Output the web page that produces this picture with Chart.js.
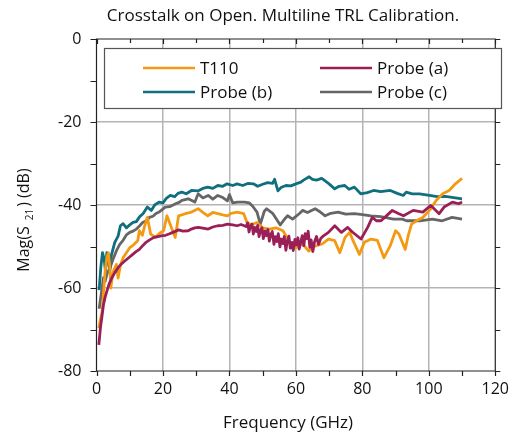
<!DOCTYPE html>
<html>
<head>
<meta charset="utf-8">
<script src="https://cdn.jsdelivr.net/npm/chart.js@4.4.1/dist/chart.umd.min.js"></script>
<style>
  html, body { margin: 0; padding: 0; background: #fff; }
  #wrap { width: 518px; height: 436px; }
</style>
</head>
<body>
<div id="wrap"><canvas id="crosstalkChart" width="518" height="436"></canvas></div>
<script>
// ——— Data (frequency in GHz, magnitude in dB) ———
var t110Freq = [0.7, 1.2, 1.7, 2.2, 2.6, 3.1, 3.6, 4.0, 4.3, 4.8, 5.1, 6.0, 6.5, 7.2, 8.0, 9.0, 10.0, 11.0, 12.4, 12.9, 13.8, 14.5, 15.3, 16.3, 17.7, 19.0, 20.2, 21.2, 22.7, 23.7, 24.7, 26.7, 28.6, 30.6, 31.9, 33.5, 35.0, 36.5, 38.0, 39.4, 40.5, 42.3, 44.3, 45.3, 46.5, 48.2, 50.0, 52.0, 54.0, 56.1, 57.5, 59.0, 60.0, 62.0, 63.9, 65.5, 67.9, 69.8, 71.7, 73.2, 74.8, 76.2, 77.2, 79.1, 80.6, 82.6, 84.5, 86.5, 88.4, 90.0, 91.0, 92.9, 93.8, 94.8, 96.3, 98.2, 100.2, 102.2, 104.2, 106.1, 108.0, 110.0];
var t110Mag = [-69.7, -67.5, -65.7, -60, -55.9, -52.7, -51.5, -55, -60, -57, -55.9, -54.3, -57.6, -54.5, -52.7, -51.5, -50.3, -49.7, -48.6, -46.2, -47.3, -45, -43, -47, -47.8, -46.8, -46.2, -42.6, -45.8, -47.8, -42.6, -42.1, -41.7, -40.9, -41.7, -42.6, -41.8, -42.1, -42.4, -42.6, -42, -41.7, -42.1, -44.2, -44.8, -44.2, -45.5, -45.8, -45.5, -46.2, -48, -50.3, -50.3, -49.4, -51.1, -50, -49.4, -48.2, -48.6, -51.5, -47.8, -46.6, -48.6, -51.9, -49, -48.2, -48.5, -52.7, -49.8, -46.2, -47, -50.7, -47.4, -44.6, -43.8, -43, -41.3, -38.9, -37.3, -36.5, -34.9, -33.6];

var probeAFreq = [0.7, 1.2, 1.7, 2.1, 2.6, 3.1, 3.8, 4.6, 5.5, 6.5, 7.5, 8.5, 9.7, 10.9, 11.8, 12.9, 13.9, 14.9, 16.0, 17.3, 18.5, 19.8, 20.8, 21.8, 23.0, 24.7, 26.0, 27.6, 28.5, 29.6, 30.6, 32.0, 33.6, 35.0, 36.5, 38.0, 39.4, 41.0, 42.3, 43.5, 45.0, 45.5, 45.9, 46.3, 46.8, 47.2, 47.6, 48.1, 48.5, 48.9, 49.4, 49.8, 50.2, 50.7, 51.1, 51.6, 52.0, 52.5, 52.9, 53.4, 53.8, 54.3, 54.7, 55.2, 55.6, 56.1, 56.5, 57.0, 57.4, 57.9, 58.3, 58.8, 59.2, 59.7, 60.1, 60.6, 61.0, 61.5, 61.9, 62.4, 62.8, 63.3, 63.7, 64.2, 64.6, 65.1, 65.6, 66.2, 66.8, 67.5, 68.2, 69.8, 71.7, 73.7, 75.6, 77.0, 79.6, 81.6, 83.0, 84.2, 85.6, 87.0, 89.0, 91.0, 92.4, 95.3, 98.2, 100.6, 103.1, 104.6, 107.1, 109.0, 110.0];
var probeAMag = [-73.7, -69.5, -66.5, -64, -62.2, -60.8, -59, -57.6, -56.3, -55.1, -54.2, -53.5, -52.7, -51.9, -51.3, -50.7, -49.8, -49, -48.4, -47.8, -47.6, -47.4, -47.3, -47, -46.6, -46, -46.3, -46.2, -45.8, -45.5, -45.4, -45.6, -45.8, -45.3, -45, -44.9, -44.6, -44.8, -45, -44.7, -45.2, -44.3, -46.5, -45.1, -44.6, -47.0, -45.4, -46.4, -44.9, -47.6, -46.0, -45.5, -48.1, -46.3, -47.4, -45.9, -48.7, -47.0, -46.4, -49.5, -47.6, -48.8, -46.9, -50.1, -48.2, -49.3, -47.6, -50.9, -48.7, -47.5, -50.4, -49.0, -51.0, -48.3, -49.6, -47.9, -50.6, -48.8, -47.4, -49.8, -46.9, -48.1, -46.3, -50.2, -48.4, -51.2, -48.9, -47.6, -49.5, -48.0, -47.5, -46.6, -45, -46.6, -45.4, -46.5, -48.2, -45.4, -43, -43.8, -43.8, -42.8, -41.3, -42.1, -42.6, -41.3, -41.7, -40.1, -42.1, -40.5, -39.3, -39.7, -39.3];

var probeBFreq = [0.8, 1.3, 1.8, 2.3, 2.7, 3.1, 3.6, 4.0, 4.5, 5.5, 6.5, 7.2, 8.0, 9.0, 10.0, 11.0, 12.0, 13.0, 14.0, 15.3, 16.5, 17.5, 18.8, 20.0, 21.0, 22.2, 23.5, 24.5, 25.7, 27.0, 28.6, 30.5, 32.0, 33.5, 35.0, 36.5, 38.0, 39.3, 41.0, 42.3, 44.0, 45.5, 47.2, 48.5, 50.0, 51.5, 53.0, 53.6, 54.6, 55.5, 57.0, 58.5, 60.0, 61.5, 62.3, 64.0, 65.0, 66.2, 67.8, 69.8, 71.7, 73.0, 74.7, 76.0, 77.6, 79.5, 81.5, 83.4, 85.5, 88.4, 90.5, 92.3, 93.2, 95.0, 97.2, 100.2, 102.5, 105.0, 107.5, 110.0];
var probeBMag = [-60.5, -55, -51.5, -53, -56, -51.5, -53.5, -56, -52, -49, -47.5, -45, -44.5, -45.5, -44.8, -44.2, -44, -42.8, -42.1, -40.5, -41.3, -40, -39.3, -39.5, -38.4, -37.7, -38, -37.2, -36.9, -37.3, -36.5, -36.6, -36, -35.7, -36, -35.3, -35.5, -34.9, -35.3, -34.9, -35.3, -34.8, -34.9, -35.5, -35, -34.6, -34.8, -33.8, -36.6, -35.8, -35.3, -35.4, -34.9, -34.5, -34, -33.2, -33.8, -34, -33.6, -34.8, -36.1, -35.5, -35.3, -36.2, -35.7, -37.3, -37, -36.5, -36.8, -36.5, -37.2, -37.7, -36.9, -37.3, -37.3, -37.7, -38, -37.9, -38.2, -38.5];

var probeCFreq = [0.8, 1.5, 2.1, 2.6, 3.2, 4.1, 5.0, 6.0, 7.0, 8.0, 9.0, 10.0, 11.0, 12.0, 13.0, 13.9, 15.0, 15.9, 17.0, 17.8, 19.0, 20.7, 22.0, 23.8, 25.0, 25.7, 27.6, 29.6, 30.6, 32.0, 33.6, 35.0, 36.5, 38.0, 39.4, 40.0, 41.0, 42.5, 44.5, 46.0, 47.0, 48.3, 49.3, 50.5, 51.2, 53.1, 55.3, 56.5, 57.5, 59.0, 61.0, 62.0, 63.5, 65.8, 67.0, 68.8, 70.5, 72.7, 75.0, 77.6, 80.0, 82.6, 85.5, 89.4, 92.0, 93.3, 97.3, 101.1, 104.0, 107.0, 110.0];
var probeCMag = [-65, -61, -57.5, -58.4, -56.5, -55.1, -53, -51, -49.5, -48.5, -47.2, -46.6, -46.3, -45.8, -45, -44.2, -43.8, -43, -42.7, -42.1, -41.6, -40.5, -40.4, -39.7, -39.3, -38.9, -38.5, -39.3, -37.3, -38.3, -37.7, -38.6, -37.7, -38.2, -39, -37.5, -39.5, -39.3, -39.3, -39.5, -40.3, -41.7, -44.6, -41.5, -40.9, -42.1, -44.8, -43.5, -42.6, -43.4, -42.1, -41.3, -41.8, -40.9, -41.5, -42.6, -42, -41.7, -42.2, -42.1, -42.3, -42.6, -42.8, -43.4, -43.4, -43.8, -43.8, -43.4, -43.8, -43, -43.4];

var seriesLabels = ["T110", "Probe (a)", "Probe (b)", "Probe (c)"];
var seriesColors = ["#f39a12", "#9b1f57", "#106f7f", "#666666"];
var xTicks = [0, 20, 40, 60, 80, 100, 120];
var yTicks = [-80, -60, -40, -20, 0];

var FONT = "'Open Sans', 'Noto Sans', sans-serif";

function toPoints(xs, ys) {
  var pts = [];
  for (var i = 0; i < xs.length; i++) pts.push({ x: xs[i], y: ys[i] });
  return pts;
}

// ——— Frame, outer ticks, titles and legend ———
var decorPlugin = {
  id: "decor",
  afterDraw: function (chart) {
    var ctx = chart.ctx;
    var a = chart.chartArea;
    var xs = chart.scales.x, ys = chart.scales.y;
    ctx.save();
    ctx.strokeStyle = "#222";
    ctx.lineWidth = 1.2;
    ctx.beginPath();
    // frame
    ctx.rect(a.left, a.top, a.right - a.left, a.bottom - a.top);
    var v, px, py;
    for (v = 0; v <= 120; v += 10) {
      px = Math.round(xs.getPixelForValue(v)) + 0.5;
      var topLen = v % 20 === 0 ? 5 : 4;
      ctx.moveTo(px, a.top); ctx.lineTo(px, a.top + topLen);
      ctx.moveTo(px, a.bottom); ctx.lineTo(px, a.bottom + 5);
    }
    for (v = -80; v <= 0; v += 10) {
      py = Math.round(ys.getPixelForValue(v)) + 0.5;
      ctx.moveTo(a.left - 6, py); ctx.lineTo(a.left, py);
      ctx.moveTo(a.right, py); ctx.lineTo(a.right + 5, py);
    }
    ctx.stroke();

    // title
    ctx.fillStyle = "#111";
    ctx.font = "17px " + FONT;
    ctx.textAlign = "center";
    ctx.textBaseline = "middle";
    ctx.fillText("Crosstalk on Open. Multiline TRL Calibration.", 283, 16);

    // x axis title
    ctx.font = "17px " + FONT;
    ctx.fillText("Frequency (GHz)", 288, 423);

    // y axis title with subscript
    ctx.save();
    ctx.translate(24, 220);
    ctx.rotate(-Math.PI / 2);
    ctx.textAlign = "left";
    ctx.textBaseline = "middle";
    var p1 = "Mag(S", p2 = ")", p3 = " (dB)";
    ctx.font = "16px " + FONT;
    var w1 = ctx.measureText(p1).width;
    var w2 = ctx.measureText(p2).width;
    var w3 = ctx.measureText(p3).width;
    ctx.font = "10px " + FONT;
    var ws = ctx.measureText("21").width;
    var gap = 6;
    var total = w1 + gap + ws + 2 + w2 + w3;
    var x0 = -total / 2;
    ctx.font = "16px " + FONT;
    ctx.fillText(p1, x0, 0);
    ctx.font = "10px " + FONT;
    ctx.fillText("21", x0 + w1 + gap, 6);
    ctx.font = "16px " + FONT;
    ctx.fillText(p2, x0 + w1 + gap + ws + 2, 0);
    ctx.fillText(p3, x0 + w1 + gap + ws + 2 + w2, 0);
    ctx.restore();

    // legend box
    ctx.fillStyle = "#fff";
    ctx.fillRect(104, 48, 397, 60);
    ctx.strokeStyle = "#555";
    ctx.lineWidth = 1.2;
    ctx.strokeRect(104.5, 48.5, 397, 60);
    var slots = [
      { lx: 143, ly: 68 }, { lx: 320, ly: 68 },
      { lx: 143, ly: 92 }, { lx: 320, ly: 92 }
    ];
    ctx.font = "17px " + FONT;
    ctx.textAlign = "left";
    ctx.textBaseline = "middle";
    chart.data.datasets.forEach(function (ds, i) {
      var s = slots[i];
      ctx.strokeStyle = ds.borderColor;
      ctx.lineWidth = 2.5;
      ctx.beginPath();
      ctx.moveTo(s.lx, s.ly); ctx.lineTo(s.lx + 52, s.ly);
      ctx.stroke();
      ctx.fillStyle = "#111";
      ctx.fillText(ds.label, s.lx + 57, s.ly + 1);
    });
    ctx.restore();
  }
};

var datasets = [
  { label: seriesLabels[0], data: toPoints(t110Freq, t110Mag), borderColor: seriesColors[0], order: 1 },
  { label: seriesLabels[1], data: toPoints(probeAFreq, probeAMag), borderColor: seriesColors[1], order: 0 },
  { label: seriesLabels[2], data: toPoints(probeBFreq, probeBMag), borderColor: seriesColors[2], order: 3 },
  { label: seriesLabels[3], data: toPoints(probeCFreq, probeCMag), borderColor: seriesColors[3], order: 2 }
].map(function (d) {
  d.borderWidth = 2.8;
  d.pointRadius = 0;
  d.tension = 0;
  d.fill = false;
  d.borderJoinStyle = "round";
  return d;
});

new Chart(document.getElementById("crosstalkChart"), {
  type: "line",
  data: { datasets: datasets },
  plugins: [decorPlugin],
  options: {
    responsive: false,
    animation: false,
    layout: { padding: { top: 39, right: 14, left: 0, bottom: 0 } },
    plugins: { legend: { display: false }, tooltip: { enabled: false }, title: { display: false } },
    scales: {
      x: {
        type: "linear",
        min: 0,
        max: 120,
        afterBuildTicks: function (scale) { scale.ticks = xTicks.map(function (v) { return { value: v }; }); },
        afterFit: function (scale) { scale.height = 65; },
        grid: {
          drawTicks: false,
          lineWidth: 1.5,
          color: function (c) { return (c.tick && (c.tick.value === 0 || c.tick.value === 120)) ? "rgba(0,0,0,0)" : "#b4b4b4"; }
        },
        border: { display: false },
        ticks: { padding: 9, color: "#111", font: { family: FONT, size: 16 }, maxRotation: 0 }
      },
      y: {
        type: "linear",
        min: -80,
        max: 0,
        afterBuildTicks: function (scale) { scale.ticks = yTicks.map(function (v) { return { value: v }; }); },
        afterFit: function (scale) { scale.width = 96.5; },
        grid: {
          drawTicks: false,
          lineWidth: 1.5,
          color: function (c) { return (c.tick && (c.tick.value === 0 || c.tick.value === -80)) ? "rgba(0,0,0,0)" : "#b4b4b4"; }
        },
        border: { display: false },
        ticks: { padding: 15, color: "#111", font: { family: FONT, size: 16 } }
      }
    }
  }
});
</script>
</body>
</html>
